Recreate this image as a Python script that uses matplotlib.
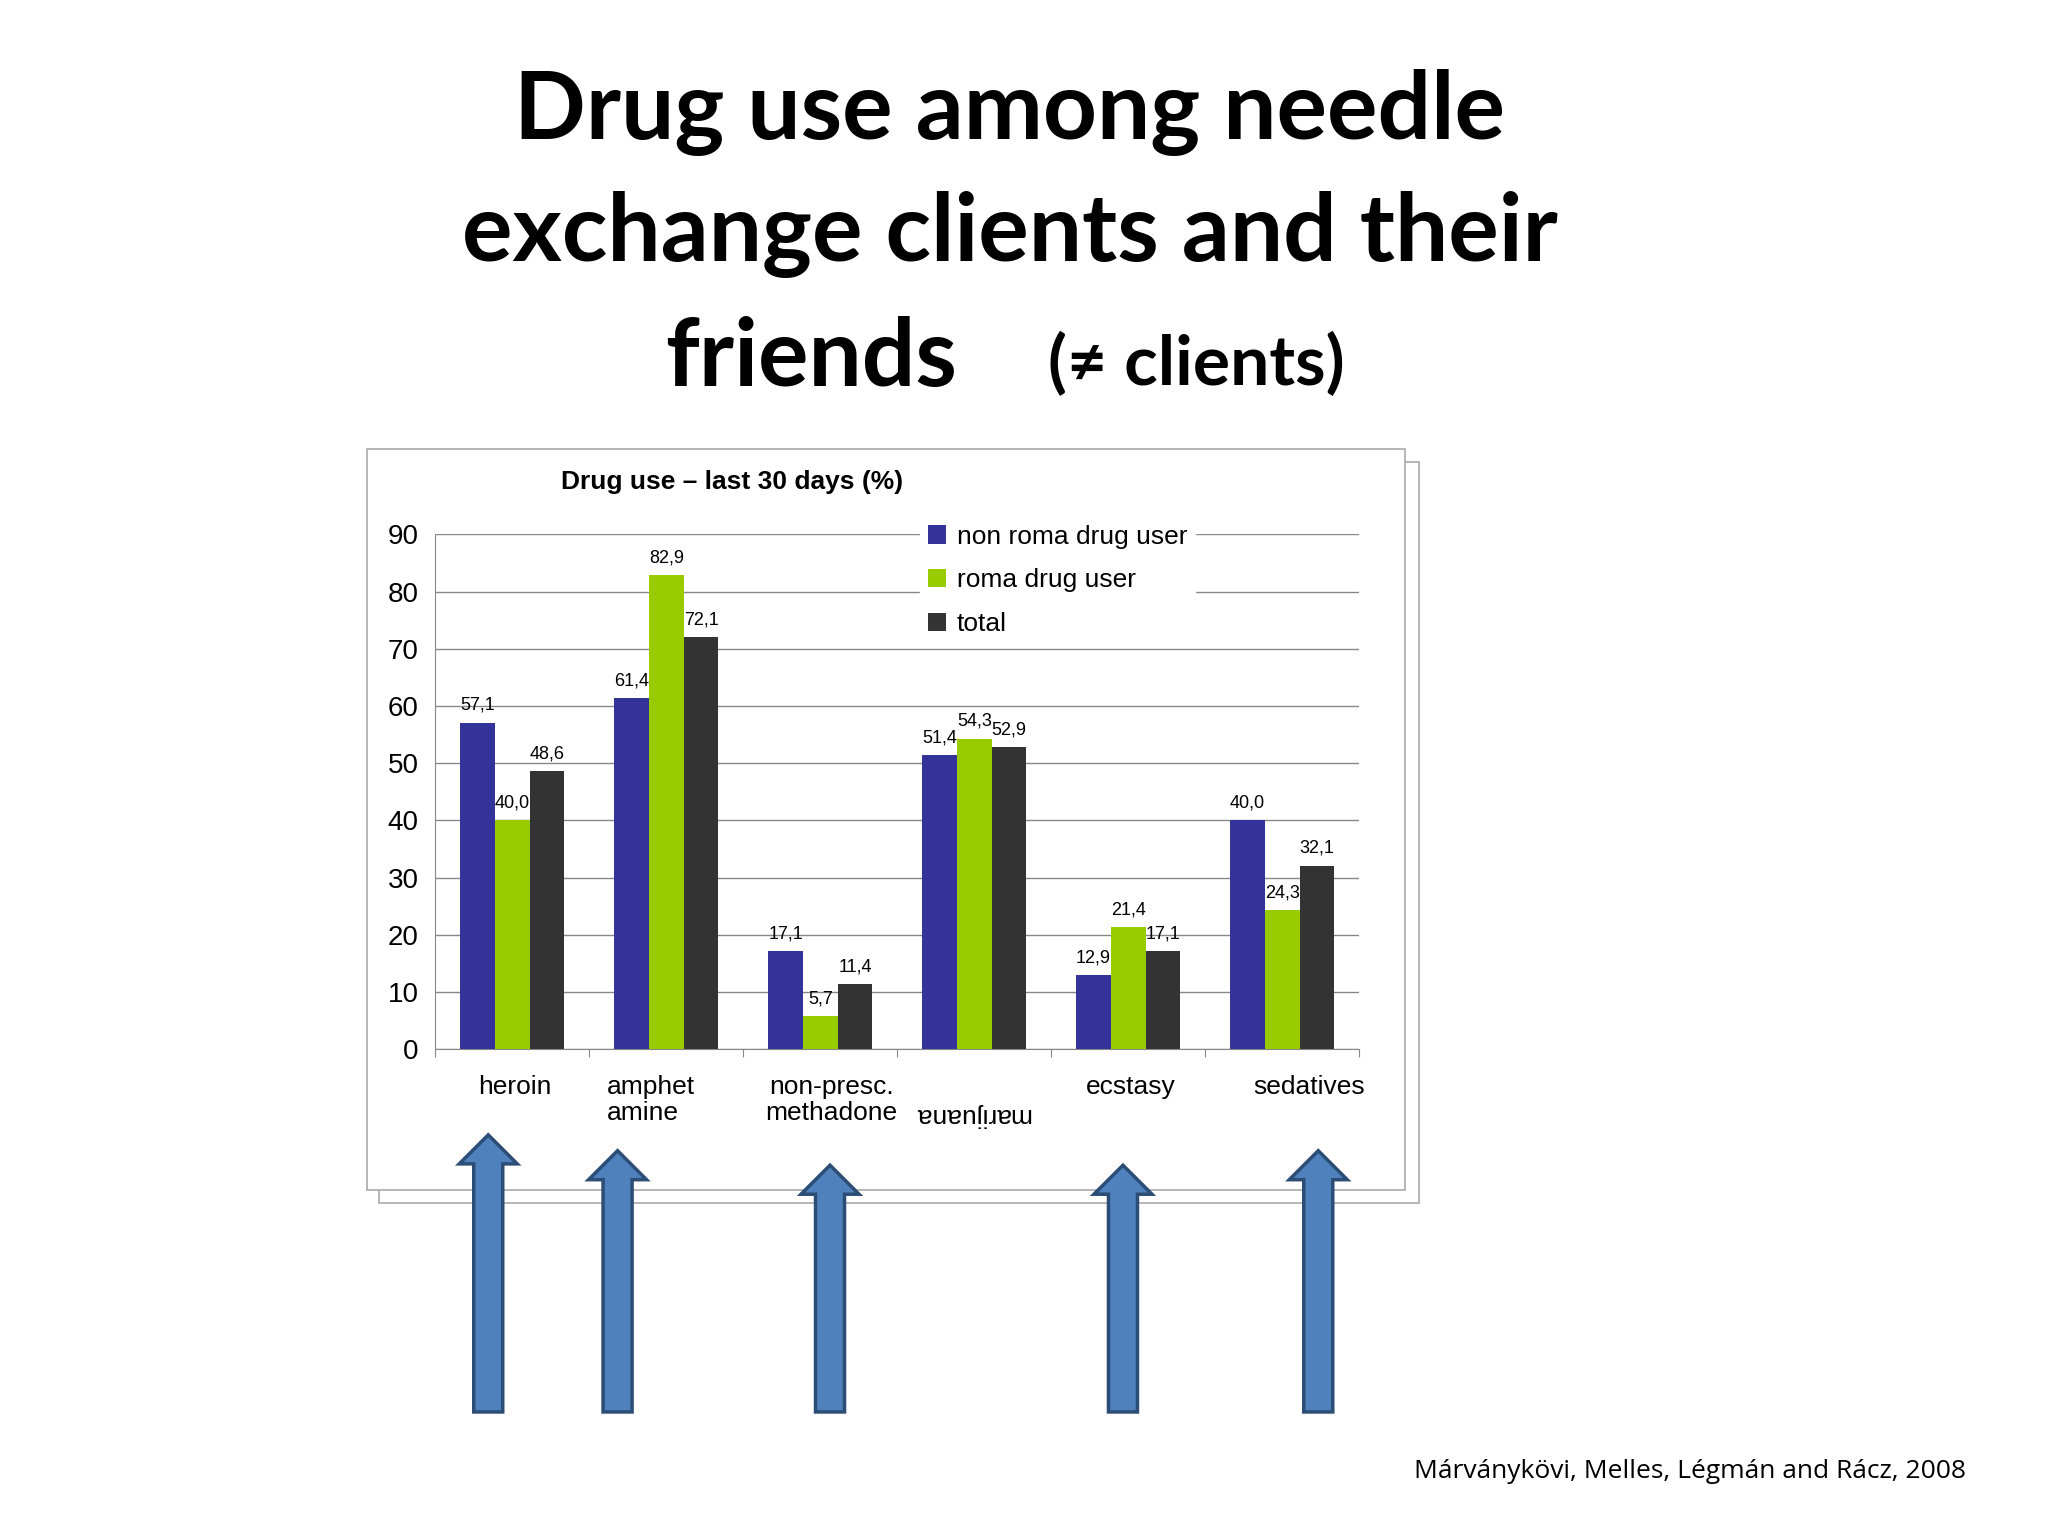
import matplotlib.pyplot as plt
import numpy as np
from matplotlib.patches import Polygon, Rectangle

categories = ['heroin', 'amphet\namine', 'non-presc.\nmethadone', 'marijuana', 'ecstasy', 'sedatives']
non_roma = [57.1, 61.4, 17.1, 51.4, 12.9, 40.0]
roma = [40.0, 82.9, 5.7, 54.3, 21.4, 24.3]
total = [48.6, 72.1, 11.4, 52.9, 17.1, 32.1]
series_names = ['non roma drug user', 'roma drug user', 'total']
colors = ['#333399', '#99CC00', '#333333']

W, H = 1552, 1164
fig = plt.figure(figsize=(20.48, 15.36), dpi=100)
bg = fig.add_axes([0, 0, 1, 1])
bg.set_xlim(0, W)
bg.set_ylim(H, 0)
bg.axis('off')

# title
bg.text(765, 85, 'Drug use among needle', ha='center', va='center', fontsize=68, fontweight='bold', family='Lato')
bg.text(765, 178, 'exchange clients and their', ha='center', va='center', fontsize=68, fontweight='bold', family='Lato')
bg.text(615, 272, 'friends', ha='center', va='center', fontsize=68, fontweight='bold', family='Lato')
bg.text(907, 276, '(≠ clients)', ha='center', va='center', fontsize=50, fontweight='bold', family=['Lato', 'DejaVu Sans'])
bg.text(1490, 1115, 'Márványkövi, Melles, Légmán and Rácz, 2008', ha='right', va='center', fontsize=19, family='Open Sans')

# frames
bg.add_patch(Rectangle((287, 350), 788, 562, fill=False, ec='#aaaaaa', lw=1.2))
bg.add_patch(Rectangle((278, 340), 787, 562, fc='white', ec='#aaaaaa', lw=1.2))
bg.text(555, 365, 'Drug use – last 30 days (%)', ha='center', va='center', fontsize=19, fontweight='bold', family='Liberation Sans')

# arrows
for xc, top in [(370, 860), (468, 872), (629, 883), (851, 883), (999, 872)]:
    sw, hw, hl, bot = 11, 22, 22, 1070
    pts = [(xc - sw, bot), (xc - sw, top + hl), (xc - hw, top + hl), (xc, top),
           (xc + hw, top + hl), (xc + sw, top + hl), (xc + sw, bot)]
    bg.add_patch(Polygon(pts, closed=True, fc='#4F81BD', ec='#2C4D75', lw=2.5))

# chart
ax = fig.add_axes([330 / W, 1 - 795 / H, 700 / W, 390 / H])
x = np.arange(len(categories))
bw = 0.225
for i, (vals, c, name) in enumerate(zip([non_roma, roma, total], colors, series_names)):
    pos = x + (i - 1) * bw
    ax.bar(pos, vals, bw, color=c, label=name, zorder=3)
    for p, v in zip(pos, vals):
        ax.text(p, v + 1.5, f'{v:.1f}'.replace('.', ','), ha='center', va='bottom',
                fontsize=13, family='Liberation Sans', zorder=4)
ax.set_xlim(-0.5, len(categories) - 0.5)
ax.set_ylim(0, 90)
ax.set_yticks(range(0, 91, 10))
ax.yaxis.grid(True, color='#888888', lw=1, zorder=0)
ax.tick_params(axis='y', length=0, labelsize=20, pad=12)
for t in ax.get_yticklabels():
    t.set_family('Liberation Sans')
ax.set_xticks(np.arange(len(categories) + 1) - 0.5)
ax.set_xticklabels([])
ax.tick_params(axis='x', length=6, color='#888888')
for s in ['top', 'right']:
    ax.spines[s].set_visible(False)
for s in ['left', 'bottom']:
    ax.spines[s].set_color('#888888')

lx = [390, 460, 630, 737, 857, 992]
for lab, px in zip(categories, lx):
    if lab == 'marijuana':
        bg.text(px, 845, lab, ha='center', va='center', fontsize=19, rotation=180, family='Liberation Sans')
    elif lab == 'amphet\namine':
        bg.text(px, 815, lab, ha='left', va='top', fontsize=19, family='Liberation Sans', linespacing=1.1)
    else:
        bg.text(px, 815, lab, ha='center', va='top', fontsize=19, family='Liberation Sans', linespacing=1.1)

leg = ax.legend(loc='upper left', bbox_to_anchor=(0.51, 1.06), frameon=True, fancybox=False,
                edgecolor='white', framealpha=1, handlelength=0.7, handleheight=0.7,
                handletextpad=0.4, labelspacing=0.75, borderpad=0.3,
                prop={'family': 'Liberation Sans', 'size': 19})
leg.set_zorder(5)

fig.savefig('out.png', dpi=100)
